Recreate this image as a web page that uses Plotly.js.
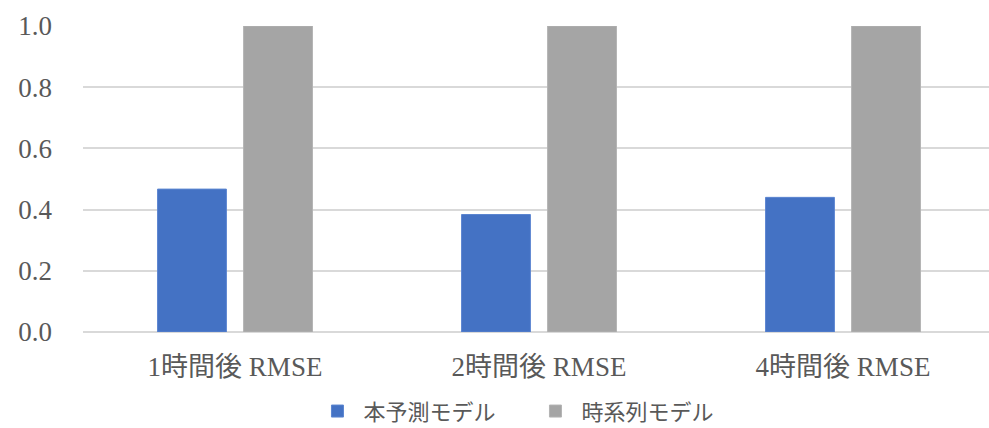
<!DOCTYPE html>
<html>
<head>
<meta charset="utf-8">
<script src="https://cdn.plot.ly/plotly-3.0.1.min.js"></script>
<style>
  html, body { margin: 0; padding: 0; overflow: hidden; background: #ffffff; }
  #chart { width: 995px; height: 428px; }
</style>
</head>
<body>
<div id="chart"></div>
<script>
// RMSE by forecast horizon, proposed model vs. time-series baseline
const categories = ['1時間後 RMSE', '2時間後 RMSE', '4時間後 RMSE'];
const modelNames = ['本予測モデル', '時系列モデル'];
const proposedRmse = [0.467, 0.384, 0.440];
const baselineRmse = [1.0, 1.0, 1.0];
const yTickValues = [0, 0.2, 0.4, 0.6, 0.8, 1.0];
const yTickLabels = ['0.0', '0.2', '0.4', '0.6', '0.8', '1.0'];

const FONT = '"Liberation Serif", "Noto Sans CJK JP", serif';
const TEXT_COLOR = '#595959';

const traces = [
  {
    type: 'bar',
    name: modelNames[0],
    x: categories,
    y: proposedRmse,
    marker: { color: '#4472C4', line: { color: '#5b85d0', width: 1 } },
    hoverinfo: 'skip'
  },
  {
    type: 'bar',
    name: modelNames[1],
    x: categories,
    y: baselineRmse,
    marker: { color: '#A5A5A5', line: { color: '#b3b3b3', width: 1 } },
    hoverinfo: 'skip'
  }
];

const layout = {
  width: 995,
  height: 428,
  margin: { l: 83, r: 0, t: 26, b: 96, autoexpand: false },
  paper_bgcolor: '#ffffff',
  plot_bgcolor: '#ffffff',
  barmode: 'group',
  bargap: 0.434,
  bargroupgap: 0.2,
  font: { family: FONT, color: TEXT_COLOR },
  xaxis: {
    type: 'category',
    automargin: false,
    showgrid: false,
    showline: false,
    zeroline: false,
    ticks: '',
    ticklabelstandoff: 16,
    tickfont: { family: FONT, size: 27, color: TEXT_COLOR }
  },
  yaxis: {
    range: [0, 1],
    automargin: false,
    tickmode: 'array',
    tickvals: yTickValues,
    ticktext: yTickLabels,
    showgrid: true,
    gridcolor: '#D9D9D9',
    gridwidth: 2,
    zeroline: true,
    zerolinecolor: '#D9D9D9',
    zerolinewidth: 2,
    showline: false,
    ticks: '',
    ticklabelstandoff: 30,
    tickfont: { family: FONT, size: 27, color: TEXT_COLOR }
  },
  showlegend: true,
  legend: {
    orientation: 'h',
    x: 0.2505,
    xanchor: 'left',
    y: -0.259,
    yanchor: 'middle',
    itemwidth: 42,
    entrywidth: 161,
    font: { family: FONT, size: 22, color: TEXT_COLOR },
    bgcolor: 'rgba(0,0,0,0)'
  }
};

Plotly.newPlot('chart', traces, layout, { displayModeBar: false, staticPlot: true });
</script>
</body>
</html>
